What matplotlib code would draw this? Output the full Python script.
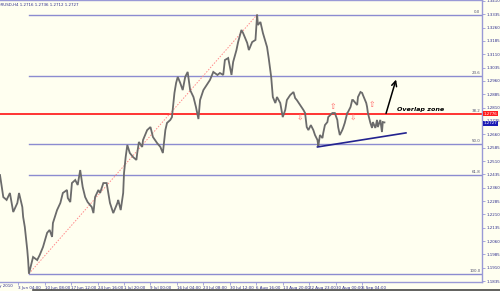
import matplotlib
matplotlib.use("Agg")
import matplotlib.pyplot as plt
from matplotlib.lines import Line2D

# ------------------------------------------------------- data (H4 bars)
bars = [0, 4, 8, 12, 16, 21, 23, 27, 28, 30, 33, 34, 35, 39, 40, 45, 48, 52, 57, 60,
        63, 64, 69, 73, 76, 81, 82, 85, 87, 91, 94, 97, 100, 103, 106, 111, 113, 115, 119, 121,
        125, 129, 133, 137, 142, 143, 146, 149, 150, 152, 154, 157, 161, 165, 166, 168, 172, 173, 178, 182,
        185, 190, 194, 197, 200, 202, 206, 208, 211, 213, 215, 218, 221, 224, 227, 230, 234, 237, 240, 242,
        246, 250, 254, 258, 263, 266, 270, 272, 276, 280, 282, 286, 288, 292, 294, 299, 301, 305, 309, 311,
        312, 315, 318, 323, 325, 328, 330, 333, 335, 339, 342, 345, 347, 351, 355, 357, 359, 363, 367, 369,
        371, 373, 376, 379, 381, 384, 385, 387, 390, 391, 393, 396, 397, 402, 405, 408, 409, 411, 414, 415,
        417, 420, 421, 424, 426, 427, 430, 432, 433, 436, 438, 439, 443, 444, 445, 448, 450, 451, 454, 456,
        457, 460, 462, 463, 465]
close = [1.2431, 1.2307, 1.2291, 1.2330, 1.2223, 1.2274, 1.2330, 1.2251, 1.2195, 1.2139,
         1.2009, 1.1953, 1.1876, 1.1953, 1.1970, 1.1953, 1.1981, 1.2026, 1.2106, 1.2122,
         1.2083, 1.2161, 1.2234, 1.2274, 1.2330, 1.2347, 1.2302, 1.2279, 1.2386, 1.2403,
         1.2375, 1.2459, 1.2364, 1.2307, 1.2279, 1.2251, 1.2217, 1.2307, 1.2347, 1.2330,
         1.2386, 1.2386, 1.2274, 1.2217, 1.2274, 1.2291, 1.2234, 1.2330, 1.2442, 1.2532,
         1.2600, 1.2555, 1.2532, 1.2516, 1.2555, 1.2617, 1.2589, 1.2628, 1.2684, 1.2701,
         1.2645, 1.2611, 1.2589, 1.2555, 1.2684, 1.2724, 1.2741, 1.2757, 1.2893, 1.2949,
         1.2983, 1.2949, 1.2909, 1.2983, 1.3011, 1.2909, 1.2870, 1.2814, 1.2746, 1.2853,
         1.2909, 1.2938, 1.2966, 1.3011, 1.2994, 1.3005, 1.2994, 1.3078, 1.3089, 1.2994,
         1.3067, 1.3134, 1.3179, 1.3247, 1.3230, 1.3174, 1.3134, 1.3179, 1.3191, 1.3333,
         1.3275, 1.3292, 1.3230, 1.3151, 1.3089, 1.2983, 1.2870, 1.2836, 1.2870, 1.2836,
         1.2757, 1.2797, 1.2853, 1.2881, 1.2898, 1.2864, 1.2853, 1.2825, 1.2797, 1.2780,
         1.2701, 1.2684, 1.2712, 1.2684, 1.2656, 1.2628, 1.2594, 1.2656, 1.2639, 1.2668,
         1.2712, 1.2729, 1.2757, 1.2780, 1.2780, 1.2741, 1.2701, 1.2656, 1.2684, 1.2696,
         1.2724, 1.2780, 1.2786, 1.2814, 1.2853, 1.2853, 1.2836, 1.2825, 1.2870, 1.2898,
         1.2893, 1.2881, 1.2836, 1.2814, 1.2780, 1.2724, 1.2696, 1.2729, 1.2696, 1.2741,
         1.2701, 1.2741, 1.2673, 1.2729, 1.2727]

title = "EURUSD,H4 1.2716 1.2736 1.2712 1.2727"
last_price = 1.2727

# fibonacci retracement: swing low -> swing high
fib_low_bar, fib_low = 35, 1.1876
fib_high_bar, fib_high = 311, 1.3333
fib_ratios = [0.0, 23.6, 38.2, 50.0, 61.8, 100.0]

# trend line / arrow / fractals
support_bars = [384, 491]
support_px = [1.2589, 1.2668]
arrow_from = (466, 1.2763)
arrow_to = (480, 1.2983)
frac_up = [(403, 1.2814), (450, 1.2825)]
frac_dn = [(363, 1.2752), (427, 1.2752)]

first_label = "27 May 2010"          # sits left of the visible window, mostly cut off
x_ticks = [22, 54, 86, 118, 150, 182, 214, 246, 278, 310, 342, 374, 406, 438]
x_labels = ["3 Jun 04:00", "10 Jun 08:00", "17 Jun 12:00", "24 Jun 16:00",
            "1 Jul 20:00", "9 Jul 00:00", "16 Jul 04:00", "23 Jul 08:00", "30 Jul 12:00",
            "6 Aug 16:00", "13 Aug 20:00", "22 Aug 23:00", "30 Aug 00:00", "6 Sep 04:00"]
y_ticks = [1.1835 + 0.0075 * i for i in range(22)]

# ------------------------------------------------------- picture
BG = "#fffff0"
AXC = "#9a9ad6"
TXT = "#2c2c8c"
FIB = "#8c8cd0"
FS = 2.9

fig = plt.figure(figsize=(5.0, 2.91), dpi=100, facecolor=BG)
ax = fig.add_axes([0, 9 / 291, 482 / 500, 282 / 291], facecolor=BG)
ax.set_xlim(0, 583)
ax.set_ylim(1.18294, 1.34156)

rng_ = fib_high - fib_low
for r in fib_ratios:
    lvl = fib_high - rng_ * r / 100
    if r == 38.2:
        ax.axhline(lvl, color="#ff2424", lw=1.3, zorder=2)
        red_lvl = lvl
    else:
        ax.plot([fib_low_bar, 583], [lvl, lvl], color=FIB, lw=1.0, zorder=2)
    ax.text(581, lvl + 0.0004, f"{r:.1f}", fontsize=FS, color="#505070",
            ha="right", va="bottom", zorder=4)

ax.plot([fib_low_bar, fib_high_bar], [fib_low, fib_high], color="#ff8a8a",
        lw=0.7, ls=(0, (1.5, 1.5)), zorder=2)

ax.plot(bars, close, color="#6b6b6b", lw=1.3, zorder=3, solid_joinstyle="miter")

ax.plot(support_bars, support_px, color="#23238f", lw=1.2, zorder=4)
ax.annotate("", xy=arrow_to, xytext=arrow_from,
            arrowprops=dict(arrowstyle="->", color="black", lw=1.1,
                            mutation_scale=9), zorder=5)
ax.text(480, 1.2797, "Overlap zone", fontsize=4.6, fontweight="bold",
        fontstyle="italic", color="black", ha="left", va="center", zorder=5)
for bx, p in frac_up:
    ax.text(bx, p, "\u21e7", fontsize=5.5, color="#ff6060", ha="center", va="center", zorder=4)
for bx, p in frac_dn:
    ax.text(bx, p, "\u21e9", fontsize=5.5, color="#ff6060", ha="center", va="center", zorder=4)

ax.text(-6, 1.3390, title, fontsize=FS, color=TXT, ha="left", va="center",
        clip_on=False, zorder=5)

# axes styling (MT4-like)
for s in ["top", "right", "bottom"]:
    ax.spines[s].set_color(AXC)
    ax.spines[s].set_linewidth(1.0)
ax.spines["left"].set_visible(False)
ax.yaxis.tick_right()
ax.set_yticks(y_ticks)
ax.set_yticklabels([f"{v:.4f}" for v in y_ticks])
ax.tick_params(axis="y", which="both", direction="out", length=2, width=0.6,
               color=AXC, labelsize=FS, labelcolor=TXT, pad=1.5, left=False)
ax.set_xticks(x_ticks)
ax.set_xticklabels(x_labels, ha="left")
ax.tick_params(axis="x", direction="out", length=2, width=0.6, color=AXC,
               labelsize=FS, labelcolor=TXT, pad=1.0)
fig.text(13 / 500, 4.5 / 291, first_label, fontsize=FS, color=TXT,
         ha="right", va="center")

# price boxes on the right scale
ax.text(1.003, red_lvl, f"{red_lvl:.4f}", transform=ax.get_yaxis_transform(),
        fontsize=FS, color="white", ha="left", va="center", zorder=6, clip_on=False,
        bbox=dict(boxstyle="square,pad=0.2", fc="#ff1e1e", ec="none"))
ax.text(1.003, last_price - 0.0005, f"{last_price:.4f}", transform=ax.get_yaxis_transform(),
        fontsize=FS, color="white", ha="left", va="center", zorder=6, clip_on=False,
        bbox=dict(boxstyle="square,pad=0.2", fc="#1c1cb4", ec="none"))

fig.add_artist(Line2D([33 / 500, 1.0], [1.2 / 291, 1.2 / 291], color="#454545", lw=1.2))

fig.savefig("out.png", dpi=100, facecolor=BG)
